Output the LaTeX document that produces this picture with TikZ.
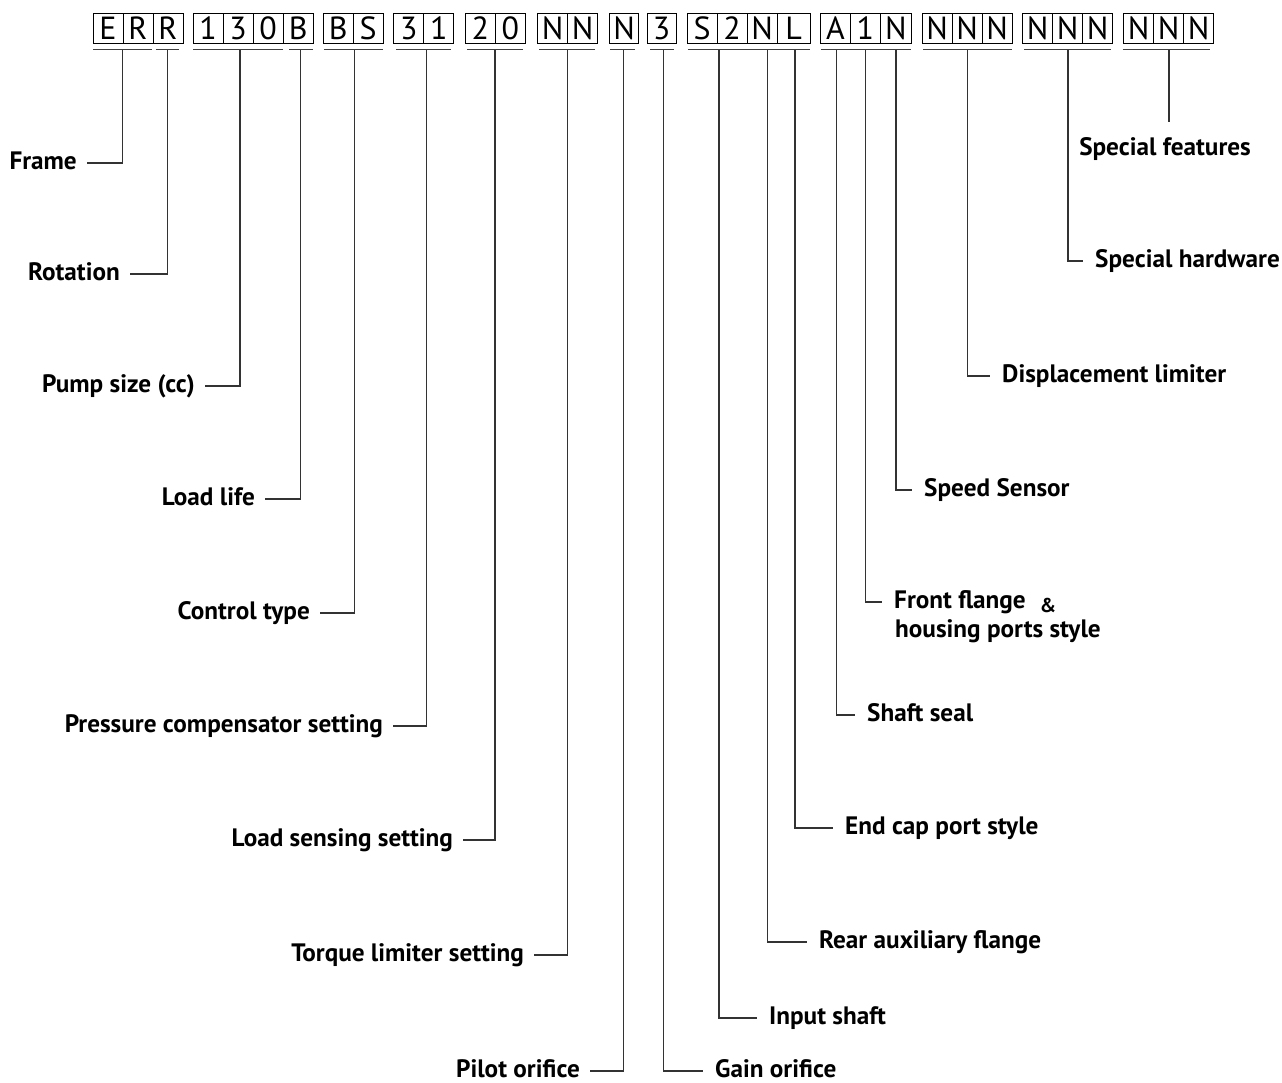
\documentclass[tikz,border=0pt]{standalone}
\usepackage{fontspec}
\setmainfont{PT Sans}
\begin{document}
\begin{tikzpicture}[x=1pt,y=-1pt,
  box/.style={draw=black,line width=0.9pt,minimum height=30pt,inner sep=0pt,
    font=\fontsize{32}{32}\selectfont,text height=22.7pt,text depth=0pt,anchor=north west},
  lbl/.style={font=\bfseries\fontsize{25.2}{28}\selectfont,text height=12.5pt,text depth=0pt,inner ysep=2pt},
  lleft/.style={lbl,anchor=east,inner xsep=10pt},
  lright/.style={lbl,anchor=west,inner xsep=12pt},
  con/.style={draw=black!80,line width=1.2pt},
  ul/.style={draw=black!75,line width=1pt}
]
\useasboundingbox (0,0) rectangle (1282,1083);
% code boxes
\foreach \x/\w/\t [count=\i] in {92.5/30/E,122.5/30/R,152.5/30/R,
  192.7/30/1,222.7/30/3,252.7/30/0,282.7/30/B,
  322.7/30/B,352.7/30/S,
  393.3/30/3,423.3/30/1,
  465/30/2,495/30/0,
  537.3/30/N,567.3/30/N,
  609.3/29/N,
  646.7/29/3,
  686.7/30/S,716.7/30/2,746.7/30/N,776.7/33/L,
  820/30/A,850/30/1,880/31/N,
  921.7/30/N,951.7/30/N,981.7/30/N,
  1022.3/30/N,1052.3/30/N,1082.3/30/N,
  1123.3/30/N,1153.3/30/N,1183.3/30/N}
  \node[box,minimum width=\w pt] (b\i) at (\x,13) {\t};
% underlines
\foreach \a/\b in {93.3/151.7,156/179,193.3/282.7,289/312.7,324.3/382.7,396/451,
  467/523,539/595,610/635,650/674,688.3/810,821/911,923.3/1011.7,1024/1111,1122.7/1210}
  \draw[ul] (\a,50) -- (\b,50);
% connector start points on the underlines
\coordinate (uFrame) at (122.7,50);
\coordinate (uRot) at (167.7,50);
\coordinate (uPump) at (240,50);
\coordinate (uLoad) at (300.7,50);
\coordinate (uCtrl) at (354.3,50);
\coordinate (uPres) at (426.7,50);
\coordinate (uLS) at (495,50);
\coordinate (uTorq) at (567.5,50);
\coordinate (uPilot) at (623.3,50);
\coordinate (uGain) at (663.3,50);
\coordinate (uInput) at (719,50);
\coordinate (uRear) at (767.7,50);
\coordinate (uEnd) at (795,50);
\coordinate (uSeal) at (836.7,50);
\coordinate (uFront) at (865.7,50);
\coordinate (uSpeed) at (896,50);
\coordinate (uDisp) at (967.7,50);
\coordinate (uHW) at (1068,50);
\coordinate (uSF) at (1169,50);
\coordinate (sfEnd) at (1169,122);
% left labels
\node[lleft] (Frame) at (87,163) {Frame};
\node[lleft] (Rot) at (130,274) {Rotation};
\node[lleft] (Pump) at (205,386) {Pump size (cc)};
\node[lleft] (Load) at (265,499) {Load life};
\node[lleft] (Ctrl) at (320,613) {Control type};
\node[lleft] (Pres) at (393,726) {Pressure compensator setting};
\node[lleft] (LS) at (463,840) {Load sensing setting};
\node[lleft] (Torq) at (534,955) {Torque limiter setting};
\node[lleft] (Pilot) at (590,1071) {Pilot orifice};
% right labels
\node[lright] (Gain) at (703,1071) {Gain orifice};
\node[lright] (Input) at (757,1018) {Input shaft};
\node[lright] (Rear) at (807,942) {Rear auxiliary flange};
\node[lright] (End) at (833,828) {End cap port style};
\node[lright] (Seal) at (855,715) {Shaft seal};
\node[lright] (Front) at (882,602) {Front flange};
\node[font=\bfseries\fontsize{20}{20}\selectfont,inner sep=0pt] (amp) at (1048,605) {\&};
\node[lbl,anchor=west,inner xsep=0pt] (Housing) at (895,631) {housing ports style};
\node[lright] (Speed) at (912,490) {Speed Sensor};
\node[lright] (Disp) at (990,376) {Displacement limiter};
\node[lright] (HW) at (1083,261) {Special hardware};
\node[lbl] (SF) at (1165,149) {Special features};
% connectors
\draw[con] (Frame.east) -| (uFrame);
\draw[con] (Rot.east) -| (uRot);
\draw[con] (Pump.east) -| (uPump);
\draw[con] (Load.east) -| (uLoad);
\draw[con] (Ctrl.east) -| (uCtrl);
\draw[con] (Pres.east) -| (uPres);
\draw[con] (LS.east) -| (uLS);
\draw[con] (Torq.east) -| (uTorq);
\draw[con] (Pilot.east) -| (uPilot);
\draw[con] (uGain) |- (Gain.west);
\draw[con] (uInput) |- (Input.west);
\draw[con] (uRear) |- (Rear.west);
\draw[con] (uEnd) |- (End.west);
\draw[con] (uSeal) |- (Seal.west);
\draw[con] (uFront) |- (Front.west);
\draw[con] (uSpeed) |- (Speed.west);
\draw[con] (uDisp) |- (Disp.west);
\draw[con] (uHW) |- (HW.west);
\draw[con] (uSF) -- (sfEnd);
\end{tikzpicture}
\end{document}
